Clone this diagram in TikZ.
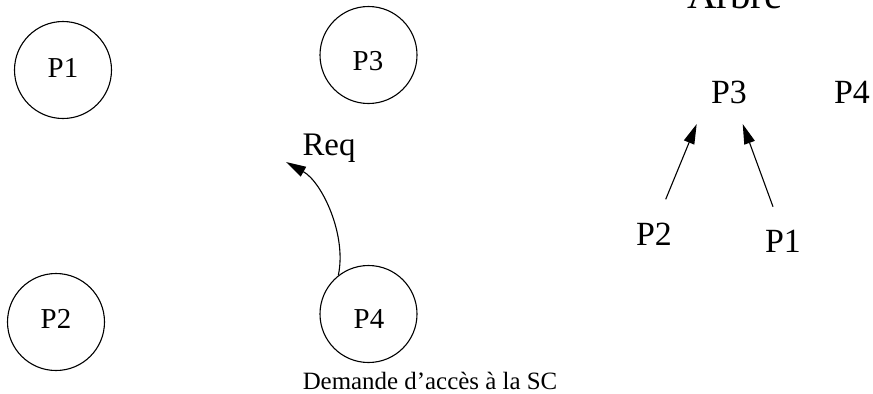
\documentclass[tikz,border=0pt]{standalone}
\usepackage{fontspec}
\setmainfont{Liberation Serif}
\usetikzlibrary{arrows.meta}
\begin{document}
\begin{tikzpicture}[x=1bp,y=-1bp,
  proc/.style={circle,draw,line width=1.1bp,minimum size=97bp,inner sep=0pt},
  plabel/.style={anchor=base,inner sep=0pt,font=\fontsize{29}{29}\selectfont},
  tlabel/.style={anchor=base,inner sep=0pt,font=\fontsize{34}{34}\selectfont},
  conn/.style={line width=1.1bp,-{Triangle[length=20bp,width=11bp]}}]
\useasboundingbox (0,0) rectangle (873,393);
% processes
\node[proc] (p1) at (63,70) {};
\node[proc] (p3) at (368.5,55) {};
\node[proc] (p2) at (56,322) {};
\node[proc] (p4) at (368.5,314) {};
\node[plabel] (l1) at (63,77) {P1};
\node[plabel] (l3) at (368,70) {P3};
\node[plabel] (l2) at (56,328) {P2};
\node[plabel] (l4) at (369,328) {P4};
% request
\node[anchor=base,inner sep=0pt,font=\fontsize{33}{33}\selectfont] (req) at (329,155) {Req};
\coordinate (reqtip) at (286,162);
\draw[conn] (p4.128) .. controls (347,235) and (322,182) .. (reqtip);
\node[anchor=base,inner sep=0pt,font=\fontsize{25}{25}\selectfont] (dem) at (430,389) {Demande d’accès à la SC};
% tree
\node[anchor=base,inner sep=0pt,font=\fontsize{41}{41}\selectfont] (arbre) at (735,8) {Arbre};
\node[tlabel] (t3) at (729,103) {P3};
\node[tlabel] (t4) at (852,103) {P4};
\node[tlabel] (t2) at (654,245) {P2};
\node[tlabel] (t1) at (783,252) {P1};
\coordinate (a2s) at (665.7,199.3);
\coordinate (a2e) at (696.7,124);
\coordinate (a1s) at (773,206.7);
\coordinate (a1e) at (742.7,124);
\draw[conn] (a2s) -- (a2e);
\draw[conn] (a1s) -- (a1e);
\end{tikzpicture}
\end{document}
